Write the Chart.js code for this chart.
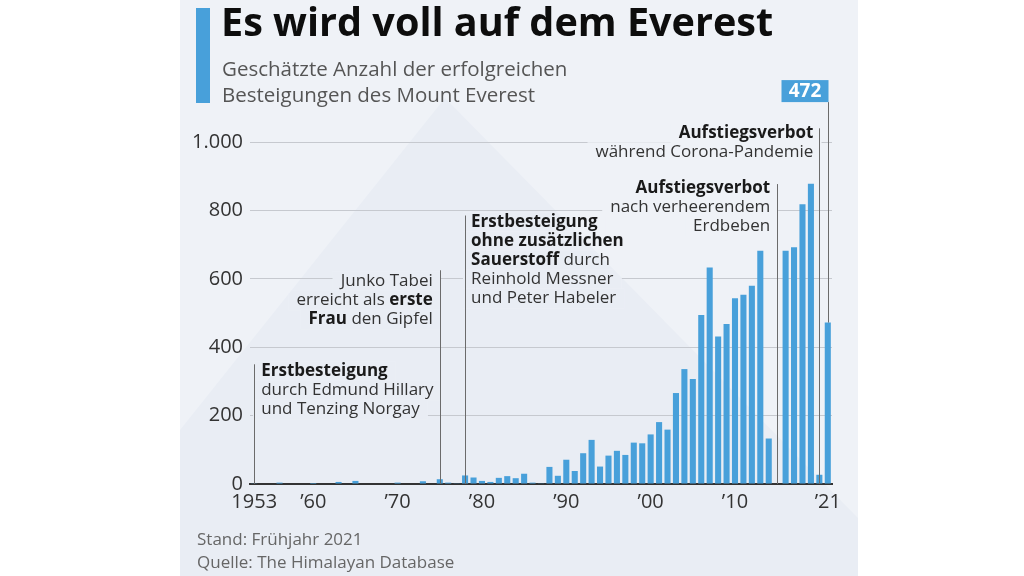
<!DOCTYPE html>
<html lang="de">
<head>
<meta charset="utf-8">
<script src="https://cdn.jsdelivr.net/npm/chart.js@4.4.1/dist/chart.umd.min.js"></script>
<style>
  html, body { margin: 0; padding: 0; background: #fff; }
  #wrap { position: relative; width: 1024px; height: 576px; overflow: hidden; font-family: "Open Sans", sans-serif; }
  canvas { position: absolute; left: 0; top: 0; }
  .accent { position: absolute; left: 196px; top: 8px; width: 14px; height: 95px; background: #48a0da; }
  .title { position: absolute; left: 221px; top: 2px; font-size: 39.6px; font-weight: 700; color: #0d0d0d; line-height: 1; white-space: nowrap; }
  .sub { position: absolute; left: 222px; top: 55px; font-size: 20.5px; color: #555; line-height: 26px; white-space: nowrap; }
  .foot { position: absolute; left: 197px; top: 527px; font-size: 17px; color: #666; line-height: 23px; white-space: nowrap; }
</style>
</head>
<body>
<div id="wrap">
  <canvas id="everestChart" width="1024" height="576"></canvas>
  <div class="accent"></div>
  <div class="title">Es wird voll auf dem Everest</div>
  <div class="sub">Geschätzte Anzahl der erfolgreichen<br>Besteigungen des Mount Everest</div>
  <div class="foot">Stand: Frühjahr 2021<br>Quelle: The Himalayan Database</div>
</div>
<script>
const years = Array.from({ length: 69 }, (_, i) => 1953 + i);
const summits = [
  2, 0, 0, 4, 0, 0, 0,
  3, 0, 0, 6, 0, 9, 0, 0, 0, 0,
  4, 0, 0, 8, 0, 14, 4, 2, 25, 19,
  9, 6, 18, 23, 17, 30, 4, 2, 50, 24,
  71, 38, 90, 129, 51, 83, 97, 85, 121, 119,
  145, 181, 159, 266, 336, 307, 494, 633, 431, 468,
  543, 553, 580, 682, 133, 0, 682, 692, 818, 878,
  27, 472
];
const tickYears = [1953, 1960, 1970, 1980, 1990, 2000, 2010, 2021];
const tickTexts = ['1953', '’60', '’70', '’80', '’90', '’00', '’10', '’21'];
const yTicks = [0, 200, 400, 600, 800, 1000];

// annotations: year of the line, top of the line (in axis units), text lines as [text, bold] runs
const notes = [
  { year: 1953, top: 350, side: 'left', dx: 7, dy: 7,
    lines: [[['Erstbesteigung', true]], [['durch Edmund Hillary', false]], [['und Tenzing Norgay', false]]] },
  { year: 1975, top: 625, side: 'right', dx: -7, dy: 11,
    lines: [[['Junko Tabei', false]], [['erreicht als ', false], ['erste', true]], [['Frau', true], [' den Gipfel', false]]] },
  { year: 1978, top: 785, side: 'left', dx: 6, dy: 7,
    lines: [[['Erstbesteigung', true]], [['ohne zusätzlichen', true]], [['Sauerstoff', true], [' durch', false]],
            [['Reinhold Messner', false]], [['und Peter Habeler', false]]] },
  { year: 2015, top: 877, side: 'right', dx: -7, dy: 4,
    lines: [[['Aufstiegsverbot', true]], [['nach verheerendem', false]], [['Erdbeben', false]]] },
  { year: 2020, top: 1040, side: 'right', dx: -6, dy: 5,
    lines: [[['Aufstiegsverbot', true]], [['während Corona-Pandemie', false]]] }
];
const lastYear = 2021;
const lastTagTop = 1181;

const FONT = '"Open Sans", sans-serif';
const LINE_H = 19;

function runFont(bold) { return (bold ? '700 ' : '400 ') + '17px ' + FONT; }

function drawBackground(ctx) {
  ctx.save();
  ctx.fillStyle = '#eff2f7';
  ctx.fillRect(180, 0, 678, 576);
  ctx.beginPath();
  ctx.rect(180, 0, 678, 576);
  ctx.clip();
  ctx.fillStyle = '#e9edf4';
  ctx.beginPath();
  ctx.moveTo(180, 430);
  ctx.lineTo(445, 98);
  ctx.lineTo(860, 520);
  ctx.lineTo(860, 576);
  ctx.lineTo(180, 576);
  ctx.closePath();
  ctx.fill();
  ctx.restore();
}

function layoutNotes(chart) {
  const ctx = chart.ctx;
  const xs = chart.scales.x, ys = chart.scales.y;
  const out = [];
  notes.forEach(n => {
    const lx = xs.getPixelForValue(years.indexOf(n.year));
    const ty = ys.getPixelForValue(n.top);
    n.lines.forEach((runs, i) => {
      let w = 0;
      runs.forEach(r => { ctx.font = runFont(r[1]); w += ctx.measureText(r[0]).width; });
      const x = n.side === 'left' ? lx + n.dx : lx + n.dx - w;
      out.push({ x, y: ty + n.dy + i * LINE_H, w, runs });
    });
  });
  return out;
}

const notesPlugin = {
  id: 'notes',
  beforeDraw(chart) { drawBackground(chart.ctx); },
  beforeDatasetsDraw(chart) {
    const ctx = chart.ctx;
    layoutNotes(chart).forEach(b => {
      ctx.save();
      ctx.beginPath();
      ctx.rect(b.x - 8, b.y - 10, b.w + 16, 20);
      ctx.clip();
      drawBackground(ctx);
      ctx.restore();
    });
  },
  afterDatasetsDraw(chart) {
    const ctx = chart.ctx;
    const xs = chart.scales.x, ys = chart.scales.y;
    const base = ys.getPixelForValue(0);
    ctx.save();
    ctx.strokeStyle = '#6b6b6b';
    ctx.lineWidth = 1;
    notes.forEach(n => {
      const lx = Math.round(xs.getPixelForValue(years.indexOf(n.year))) + 0.5;
      ctx.beginPath();
      ctx.moveTo(lx, ys.getPixelForValue(n.top));
      ctx.lineTo(lx, base);
      ctx.stroke();
    });
    ctx.textBaseline = 'middle';
    layoutNotes(chart).forEach(b => {
      let cx = b.x;
      b.runs.forEach(r => {
        ctx.font = runFont(r[1]);
        ctx.fillStyle = r[1] ? '#1a1a1a' : '#333';
        ctx.fillText(r[0], cx, b.y);
        cx += ctx.measureText(r[0]).width;
      });
    });
    // value tag for the last year
    const li = years.indexOf(lastYear);
    const tx = Math.round(xs.getPixelForValue(li)) + 0.5;
    const tagTop = ys.getPixelForValue(lastTagTop);
    ctx.beginPath();
    ctx.moveTo(tx, tagTop + 22);
    ctx.lineTo(tx, ys.getPixelForValue(summits[li]));
    ctx.stroke();
    ctx.fillStyle = '#48a0da';
    ctx.fillRect(tx - 47, tagTop, 47, 22);
    ctx.fillStyle = '#fff';
    ctx.font = '700 19px ' + FONT;
    ctx.textAlign = 'center';
    ctx.fillText(String(summits[li]), tx - 23.5, tagTop + 11.5);
    ctx.restore();
  }
};

function fmt(v) { return String(v).replace(/\B(?=(\d{3})+(?!\d))/g, '.'); }

const ctx = document.getElementById('everestChart').getContext('2d');
const everestChart = new Chart(ctx, {
  type: 'bar',
  data: {
    labels: years,
    datasets: [{
      label: 'Besteigungen',
      data: summits,
      backgroundColor: '#48a0da',
      borderWidth: 0,
      barPercentage: 0.72,
      categoryPercentage: 1
    }]
  },
  options: {
    responsive: false,
    animation: false,
    devicePixelRatio: 1,
    layout: { padding: { left: 182, right: 192, top: 142, bottom: 52 } },
    plugins: { legend: { display: false }, tooltip: { enabled: false } },
    scales: {
      x: {
        grid: { display: false, drawTicks: false },
        border: { display: true, color: '#333', width: 2 },
        ticks: {
          autoSkip: false, maxRotation: 0, padding: 6,
          color: '#333', font: { family: FONT, size: 20 },
          callback: (v, i) => {
            const k = tickYears.indexOf(years[i]);
            return k >= 0 ? tickTexts[k] : '';
          }
        },
        afterFit: s => { s.height = 40; }
      },
      y: {
        min: 0, max: 1000,
        grid: { color: '#c6c9cf', lineWidth: 1, drawTicks: false },
        border: { display: false },
        afterBuildTicks: s => { s.ticks = yTicks.map(v => ({ value: v })); },
        ticks: {
          padding: 7, color: '#333', font: { family: FONT, size: 20 },
          callback: v => fmt(v)
        },
        afterFit: s => { s.width = 68; }
      }
    }
  },
  plugins: [notesPlugin]
});
</script>
</body>
</html>
